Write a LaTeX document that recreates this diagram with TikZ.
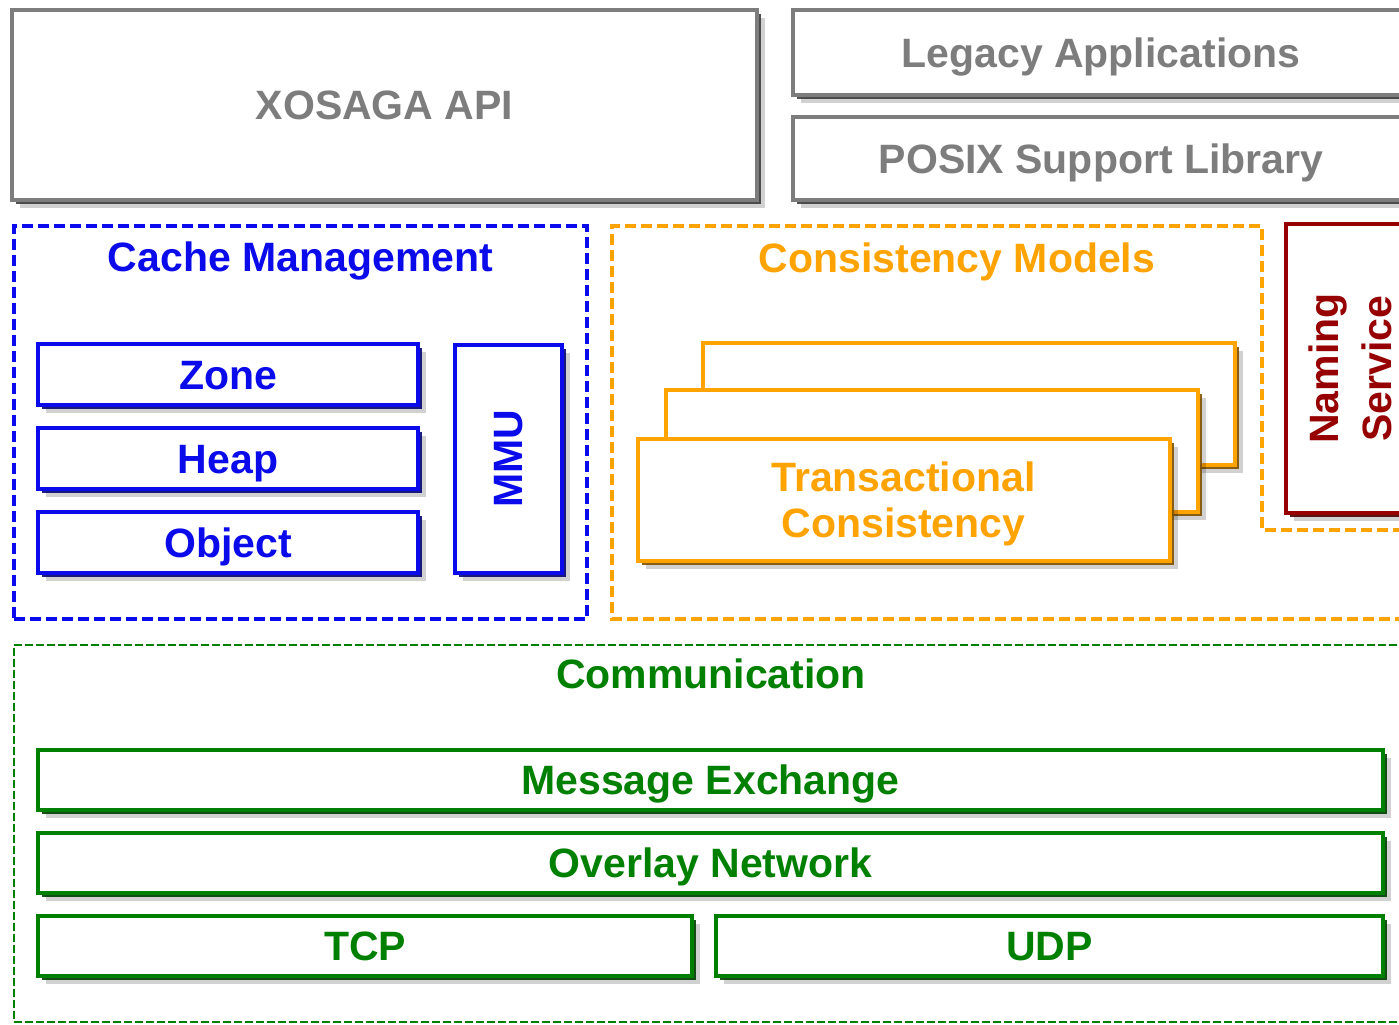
\documentclass[tikz,border=0pt]{standalone}
\usepackage{fontspec}
\setmainfont{Liberation Sans}
\usetikzlibrary{positioning, shadows}

\definecolor{boxgray}{RGB}{125,125,125}
\definecolor{cacheblue}{RGB}{10,10,235}
\definecolor{modelorange}{RGB}{255,163,0}
\definecolor{namered}{RGB}{150,0,0}
\definecolor{commgreen}{RGB}{0,128,0}

\begin{document}
\begin{tikzpicture}[
        x=0.5pt, y=-0.5pt,
        font=\fontsize{20.5}{23}\selectfont\bfseries,
        % Styles
        unit/.style={
            rectangle,
            draw=#1,
            text=#1,
            fill=white,
            line width=2pt,
            inner sep=0pt,
            outer sep=0pt,
            align=center,
            text height=14.7pt,
            text depth=0pt,
            drop shadow={shadow xshift=4pt, shadow yshift=-4pt, opacity=0.18, fill=black},
            drop shadow={shadow xshift=2.2pt, shadow yshift=-2.2pt, opacity=0.9, fill=#1!50!black}
          },
        groupframe/.style={
            rectangle,
            draw=#1,
            line width=1.8pt,
            dash pattern=on 5.5pt off 2.5pt
          },
        grouptitle/.style={
            text=#1,
            inner sep=0pt,
            text height=14.7pt,
            text depth=0pt
          },
        turned/.style={
            rotate=90,
            text=#1,
            inner sep=0pt,
            align=center
          }
      ]
      \useasboundingbox (0,0) rectangle (1399,1024);
      \clip (0,0) rectangle (1399,1024);

      % Top layer
      \node[unit=boxgray, minimum width=372.5pt, minimum height=95pt] (api) at (384.5,105) {XOSAGA API};
      \node[unit=boxgray, minimum width=308pt, minimum height=42.5pt] (legacy) at (1101,52.5) {Legacy Applications};
      \node[unit=boxgray, minimum width=308pt, minimum height=41.5pt, below=11pt of legacy] (posix) {POSIX Support Library};

      % Cache Management
      \node[groupframe=cacheblue, minimum width=286.5pt, minimum height=196.5pt] (cache) at (300.5,422.5) {};
      \node[grouptitle=cacheblue, below=8.5pt of cache.north] (cachetitle) {Cache Management};
      \node[unit=cacheblue, minimum width=190pt, minimum height=30.5pt] (zone) at (228,374.5) {Zone};
      \node[unit=cacheblue, minimum width=190pt, minimum height=30.5pt, below=11.5pt of zone] (heap) {Heap};
      \node[unit=cacheblue, minimum width=190pt, minimum height=30.5pt, below=11.5pt of heap] (object) {Object};
      \node[unit=cacheblue, minimum width=53.5pt, minimum height=114pt, right=18.5pt of heap] (mmu) {};
      \node[turned=cacheblue] (mmutext) at (mmu) {MMU};

      % Consistency Models
      \draw[groupframe=modelorange] (1420,530) -| (1262,226) -| (612,619) -- (1420,619);
      \node[grouptitle=modelorange] (modeltitle) at (957,258) {Consistency Models};
      \node[unit=modelorange, minimum width=266pt, minimum height=61pt] (cmback) at (969,404) {};
      \node[unit=modelorange, minimum width=266pt, minimum height=61pt] (cmmid) at (931.5,451) {};
      \node[unit=modelorange, minimum width=266pt, minimum height=61pt, text height=, text depth=0pt] (transact) at (903.5,500) {Transactional\\Consistency};

      % Naming Service
      \node[unit=namered, minimum width=64pt, minimum height=144.5pt] (naming) at (1350,368.5) {};
      \node[turned=namered, font=\fontsize{20.5}{26.5}\selectfont\bfseries] (namingtext) at (naming) {Naming\\Service};

      % Communication
      \node[groupframe=commgreen, line width=1pt, dash pattern=on 4pt off 1.5pt, minimum width=697pt, minimum height=188.5pt] (comm) at (711,833.5) {};
      \node[grouptitle=commgreen, below=7.5pt of comm.north] (commtitle) {Communication};
      \node[unit=commgreen, minimum width=672.5pt, minimum height=30pt] (msgx) at (710.5,780) {Message Exchange};
      \node[unit=commgreen, minimum width=672.5pt, minimum height=30pt, below=11.5pt of msgx] (overlay) {Overlay Network};
      \node[unit=commgreen, minimum width=327pt, minimum height=30pt, below=11.5pt of overlay.south west, anchor=north west] (tcp) {TCP};
      \node[unit=commgreen, minimum width=333.5pt, minimum height=30pt, right=12pt of tcp] (udp) {UDP};

    \end{tikzpicture}
\end{document}
